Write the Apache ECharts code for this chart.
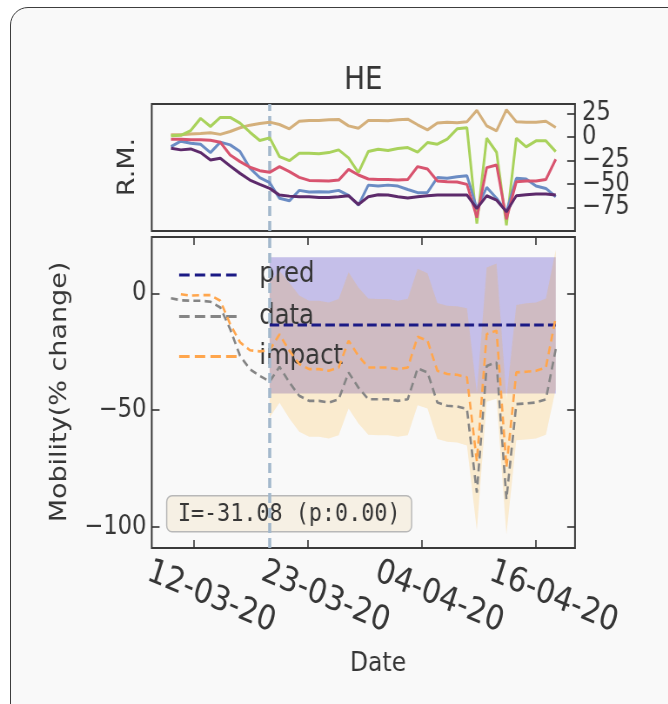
<!DOCTYPE html>
<html>
<head>
<meta charset="utf-8">
<script src="https://cdn.jsdelivr.net/npm/echarts@6/dist/echarts.min.js"></script>
<style>
  html, body { margin: 0; padding: 0; background: #ffffff; width: 668px; height: 704px; overflow: hidden; }
  #card { position: absolute; left: 10px; top: 7px; width: 720px; height: 760px;
          border: 1.5px solid #3d3d3d; border-radius: 18px; background: #f9f9f9; box-sizing: border-box; }
  /* the figure is drawn wide and squeezed horizontally to its final width */
  #chart { position: absolute; left: 0; top: 0; width: 768px; height: 704px;
           transform: scaleX(0.87); transform-origin: 0 0; }
</style>
</head>
<body>
<div id="card"></div>
<div id="chart"></div>
<script>
// ---- x axis: day offsets from 10-03-20 (index of each daily value) ----
const labelDays = [2.3, 13.87, 25.43, 37.0];
const dayLabels = ['12-03-20', '23-03-20', '04-04-20', '16-04-20'];
const interventionDay = 10;

// ---- upper panel: R.M. series (% change), one value per day ----
const rmTan = [2.5, 2.5, 3.5, 4, 4.6, 3, 6, 10, 12.8, 14.6, 16, 13.5, 8.9, 17, 17.8, 17.8, 18.5, 18.9, 12, 9.6,
               17.8, 17.8, 17.5, 18.5, 19.2, 13.2, 7.8, 15, 16, 15.3, 16.4, 28.5, 12.1, 6.8, 29.2, 16.4, 16, 16, 17, 10.3];
const rmGreen = [1.4, 2, 7, 20, 11.4, 21, 21, 15, 5.3, -3.6, -0.7, -20.7, -25, -17, -17, -17.5, -16.4, -13.5, -22, -37.7,
                 -15.3, -12.8, -14.2, -12.1, -11, -16, -5.7, -7.5, -2.1, 8.9, 10, -91.9, -1.1, -16, -93.7, -1.1, -10.3, -3.9, -3.9, -15.3];
const rmBlue = [-10, -4.3, -6.4, -7.5, -16.4, -5.3, -8.2, -15.3, -33, -43, -48.4, -65, -67.7, -56.6, -58.4, -58, -58.4, -56.6, -62, -72.3,
                -51, -52, -51, -52, -55.6, -59, -58.8, -43, -43.8, -42, -41, -75.9, -53.4, -65, -79.4, -43.8, -44.5, -52, -54.5, -63.4];
const rmRed = [-2.1, -2.1, -2.8, -2.8, -3.2, -5.3, -18.9, -26, -32, -35.6, -37.4, -31.3, -36.7, -42.7, -46, -46.3, -46.7, -45.6, -34.2, -40.2,
               -44.5, -44.9, -44.9, -45.6, -44.9, -31.3, -33.8, -46.7, -47.4, -47.7, -50.2, -85.5, -32.4, -29.6, -87.3, -47.4, -46.7, -46.7, -44.9, -23.5];
const rmPurple = [-11.8, -13.5, -12.5, -16.4, -24.2, -22.4, -30.6, -38.5, -45.6, -50.2, -54.5, -61.6, -62.7, -63.4, -63.4, -64.1, -64.1, -63.4, -62.3, -71.6,
                  -63.4, -61.3, -61.6, -63.4, -64.8, -63.4, -62.3, -61.6, -61.6, -61.6, -61.6, -75.9, -62.3, -67, -79.4, -62.3, -61.3, -60.5, -60.5, -61.6];
const rmTicks = [25, 0, -25, -50, -75];

// ---- lower panel: mobility (% change) ----
const mobData = [-2.1, -3.0, -3.2, -3.2, -3.6, -6.1, -15.4, -26.8, -32.5, -35.4, -37.8, -31.5, -38.2, -43.9, -46.1, -46.1, -46.8, -45.4, -33.9, -40.4,
                 -45.4, -45.4, -45.4, -46.1, -45.4, -32.2, -33.9, -46.8, -48.2, -48.5, -49.6, -85.4, -31.1, -29.6, -88.2, -47.5, -47.2, -46.8, -45.4, -23.9];
// impact starts on day 1
const impactVals = [-0.4, -1.0, -0.8, -0.8, -3.2, -13.2, -21.0, -24.4, -24.9, -24.3, -17.6, -24.6, -30.3, -32.5, -32.5, -33.2, -31.8, -20.3, -26.8,
                    -31.8, -31.8, -31.8, -32.5, -31.8, -18.6, -20.3, -33.2, -34.6, -34.9, -36.0, -72.0, -17.5, -16.0, -74.6, -33.9, -33.6, -33.2, -31.8, -10.3];
// impact interval, from the intervention day on
const impactHi = [4.5, 9.5, 4.5, -1.0, -3.2, -3.2, -3.9, -2.5, 9.0, 2.5, -2.2, -2.5, -2.5, -3.2, -2.3, 10.5, 8.6, -4.2, -5.3, -5.6,
                  -6.4, -42.5, 11.0, 12.8, -45.3, -5.0, -4.3, -3.9, -2.2, 18.6];
const impactLo = [-53.2, -46.9, -53.6, -59.3, -61.5, -61.5, -62.2, -60.8, -49.3, -55.8, -60.6, -60.8, -60.8, -61.5, -60.8, -48.0, -49.3, -62.4, -63.6, -63.9,
                  -65.2, -101.5, -46.5, -45.2, -103.3, -62.9, -62.6, -62.2, -60.6, -41.0];
const predMean = -13.6, predHi = 15.4, predLo = -42.9;
const mobTicks = [0, -50, -100];
const legendNames = ['pred', 'data', 'impact'];
const annotation = 'I=-31.08 (p:0.00)';

// ---- helpers building the option ----
const daysFrom = (start, arr) => arr.map((v, i) => [start + i, v]);
const postDays = impactHi.map((_, i) => interventionDay + i);
const minus = v => (v < 0 ? '\u2212' + Math.abs(v) : String(v));
const FONT = 'DejaVu Sans';
const INK = '#363636';
const GRID_L = 174.4, GRID_W = 486.5;
const X_MIN = -1.95, X_MAX = 40.95;
const RM_MIN = -99.8, RM_MAX = 35.3;
const MOB_MIN = -109.1, MOB_MAX = 24.1;

const hiddenAxisBits = { axisLine: { show: false, onZero: false }, splitLine: { show: false } };
const tickStyle = { color: '#333', width: 1.6 };
const tickLabelStyle = { fontFamily: FONT, fontSize: 26, color: INK, hideOverlap: false, showMinLabel: true, showMaxLabel: true, formatter: minus };

const xAxes = [
  Object.assign({ type: 'value', gridIndex: 0, min: X_MIN, max: X_MAX, axisTick: { show: false }, axisLabel: { show: false } }, hiddenAxisBits),
  Object.assign({
    type: 'value', gridIndex: 1, position: 'bottom', min: X_MIN, max: X_MAX,
    axisTick: { show: true, inside: true, length: 8, customValues: labelDays, lineStyle: tickStyle },
    axisLabel: {
      show: true, customValues: labelDays, rotate: -20, margin: 42, align: 'center', verticalAlign: 'middle',
      padding: [0, 0, 0, 43], fontFamily: FONT, fontSize: 34, color: INK, hideOverlap: false,
      showMinLabel: true, showMaxLabel: true,
      formatter: v => {
        let best = 0;
        labelDays.forEach((d, i) => { if (Math.abs(d - v) < Math.abs(labelDays[best] - v)) best = i; });
        return dayLabels[best];
      }
    }
  }, hiddenAxisBits),
  Object.assign({
    type: 'value', gridIndex: 1, position: 'top', min: X_MIN, max: X_MAX,
    axisTick: { show: true, inside: true, length: 8, customValues: labelDays, lineStyle: tickStyle },
    axisLabel: { show: false }
  }, hiddenAxisBits)
];

// the R.M. scale labels sit close together, so they are split over two
// overlaid right-hand axes (every other value on each)
const rmLabelsA = rmTicks.filter((_, i) => i % 2 === 0);
const rmLabelsB = rmTicks.filter((_, i) => i % 2 === 1);

const yAxes = [
  Object.assign({
    type: 'value', gridIndex: 0, position: 'right', min: RM_MIN, max: RM_MAX,
    axisTick: { show: true, inside: true, length: 9, customValues: rmTicks, lineStyle: tickStyle },
    axisLabel: Object.assign({ show: true, customValues: rmLabelsA, margin: 8 }, tickLabelStyle)
  }, hiddenAxisBits),
  Object.assign({
    type: 'value', gridIndex: 1, position: 'left', min: MOB_MIN, max: MOB_MAX,
    axisTick: { show: true, inside: true, length: 9, customValues: mobTicks, lineStyle: tickStyle },
    axisLabel: Object.assign({ show: true, customValues: mobTicks, margin: 6 }, tickLabelStyle)
  }, hiddenAxisBits),
  Object.assign({
    type: 'value', gridIndex: 1, position: 'right', min: MOB_MIN, max: MOB_MAX,
    axisTick: { show: true, inside: true, length: 9, customValues: mobTicks, lineStyle: tickStyle },
    axisLabel: { show: false }
  }, hiddenAxisBits),
  Object.assign({
    type: 'value', gridIndex: 0, position: 'right', offset: 0, min: RM_MIN, max: RM_MAX,
    axisTick: { show: false },
    axisLabel: Object.assign({ show: true, customValues: rmLabelsB, margin: 8 }, tickLabelStyle)
  }, hiddenAxisBits)
];

const vline = (z) => ({
  silent: true, symbol: 'none', z: z, label: { show: false },
  lineStyle: { color: '#a3b8cc', width: 3.6, type: [10, 5], opacity: 1 },
  data: [{ xAxis: interventionDay }]
});

const rmLine = (name, arr, color, extra) => Object.assign({
  type: 'line', name: name, xAxisIndex: 0, yAxisIndex: 0, z: 3,
  data: daysFrom(0, arr), symbol: 'none', lineStyle: { color: color, width: 3 }, itemStyle: { color: color }
}, extra || {});

// a shaded band: each item is [day, low, high]; the whole band is one polygon
const bandSeries = (name, rows, fill) => ({
  type: 'custom', name: name, xAxisIndex: 1, yAxisIndex: 1, z: 2, silent: true, clip: true,
  encode: { x: 0, y: [1, 2] },
  data: rows,
  renderItem: (params, api) => {
    if (params.dataIndexInside !== 0) return null;
    const n = params.dataInsideLength;
    const upper = [], lower = [];
    for (let j = 0; j < n; j++) {
      const x = api.value(0, j);
      upper.push(api.coord([x, api.value(2, j)]));
      lower.push(api.coord([x, api.value(1, j)]));
    }
    return { type: 'polygon', shape: { points: upper.concat(lower.reverse()) }, style: { fill: fill } };
  }
});

const series = [
  rmLine('rmTan', rmTan, '#d4b07c', { markLine: vline(1) }),
  rmLine('rmGreen', rmGreen, '#a9d25c'),
  rmLine('rmBlue', rmBlue, '#6b8cc4'),
  rmLine('rmRed', rmRed, '#d8546f'),
  rmLine('rmPurple', rmPurple, '#5d2a6b'),

  bandSeries('predBand', postDays.map(d => [d, predLo, predHi]), 'rgba(106,90,205,0.36)'),
  bandSeries('impactBand', postDays.map((d, i) => [d, impactLo[i], impactHi[i]]), 'rgba(255,165,0,0.17)'),

  { type: 'line', name: 'pred', xAxisIndex: 1, yAxisIndex: 1, z: 4, symbol: 'none',
    lineStyle: { color: '#1b1a85', width: 3, type: [11, 5] }, itemStyle: { color: '#1b1a85' },
    data: postDays.map(d => [d, predMean]) },
  { type: 'line', name: 'data', xAxisIndex: 1, yAxisIndex: 1, z: 4, symbol: 'none',
    lineStyle: { color: '#858585', width: 2.6, type: [8, 5] }, itemStyle: { color: '#858585' },
    data: daysFrom(0, mobData), markLine: vline(5) },
  { type: 'line', name: 'impact', xAxisIndex: 1, yAxisIndex: 1, z: 4, symbol: 'none',
    lineStyle: { color: '#ffa64d', width: 2.6, type: [8, 5] }, itemStyle: { color: '#ffa64d' },
    data: daysFrom(1, impactVals) }
];

// one legend block per entry so the rows keep a fixed pitch
const legendTops = [261, 302.5, 342.5];
const legends = legendNames.map((name, i) => ({
  data: [name], orient: 'vertical', left: 204.3, top: legendTops[i],
  itemWidth: 66, itemHeight: 14, selectedMode: false, padding: 0,
  itemStyle: { opacity: 0 },
  lineStyle: { width: 3.2, type: [12, 6] },
  textStyle: { fontFamily: FONT, fontSize: 28, color: INK, padding: [0, 0, 0, 21] }
}));

const option = {
  animation: false,
  backgroundColor: 'transparent',
  grid: [
    { left: GRID_L, width: GRID_W, top: 104, height: 127, show: true, borderColor: '#3a3a3a', borderWidth: 2,
      backgroundColor: 'transparent', containLabel: false, outerBoundsMode: 'none' },
    { left: GRID_L, width: GRID_W, top: 237, height: 311, show: true, borderColor: '#3a3a3a', borderWidth: 2,
      backgroundColor: 'transparent', containLabel: false, outerBoundsMode: 'none' }
  ],
  xAxis: xAxes,
  yAxis: yAxes,
  legend: legends,
  graphic: { elements: [
    { type: 'text', x: 417.6, y: 81, z: 1, style: { text: 'HE', font: '32px "DejaVu Sans"', fill: INK, align: 'center', verticalAlign: 'middle' } },
    { type: 'text', x: 147, y: 167, rotation: Math.PI / 2, z: 1,
      style: { text: 'R.M.', font: '27px "DejaVu Sans"', fill: INK, align: 'center', verticalAlign: 'middle' } },
    { type: 'text', x: 69, y: 392, rotation: Math.PI / 2, z: 1,
      style: { text: 'Mobility(% change)', font: '27px "DejaVu Sans"', fill: INK, align: 'center', verticalAlign: 'middle' } },
    { type: 'text', x: 434.5, y: 664, z: 1,
      style: { text: 'Date', font: '27px "DejaVu Sans"', fill: INK, align: 'center', verticalAlign: 'middle' } },
    { type: 'rect', z: 1, shape: { x: 191.6, y: 495.7, width: 281.6, height: 36, r: 6 },
      style: { fill: '#f6f0e4', stroke: '#b8b8b8', lineWidth: 1.5 } },
    { type: 'text', x: 332.4, y: 514, z: 1,
      style: { text: annotation, font: '25px "DejaVu Sans Mono"', fill: INK, align: 'center', verticalAlign: 'middle' } }
  ] },
  series: series
};

const chart = echarts.init(document.getElementById('chart'), null, { renderer: 'canvas' });
chart.setOption(option);
</script>
</body>
</html>
